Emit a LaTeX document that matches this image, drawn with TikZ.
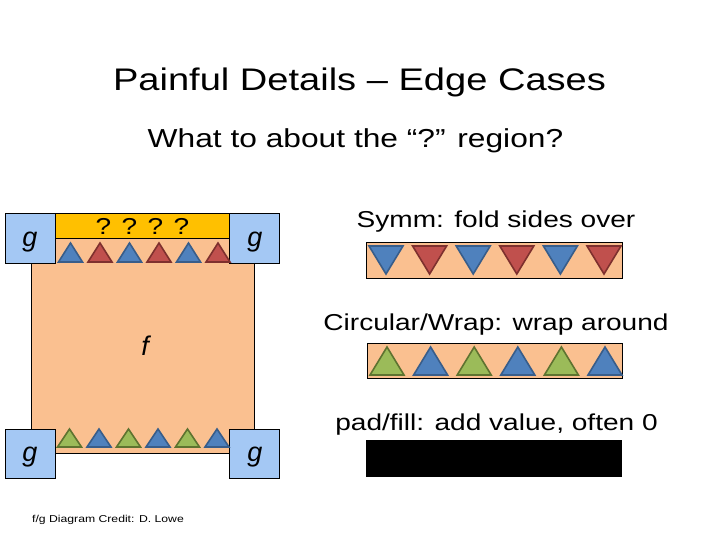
\documentclass[tikz,border=0pt]{standalone}
\usepackage{fontspec}
\setmainfont{Liberation Sans}[FakeStretch=1.22]
\newfontfamily\plainsans{Liberation Sans}
\definecolor{peach}{HTML}{FAC090}
\definecolor{lblue}{HTML}{A4C8F4}
\definecolor{barY}{HTML}{FFC000}
\definecolor{tblue}{HTML}{4F81BD}
\definecolor{tblueB}{HTML}{385D8A}
\definecolor{tred}{HTML}{C0504D}
\definecolor{tredB}{HTML}{7E302E}
\definecolor{tgreen}{HTML}{9BBB59}
\definecolor{tgreenB}{HTML}{5E7330}
\tikzset{
  gbox/.style={draw=black, line width=0.8pt, fill=lblue},
  lab/.style={inner sep=0pt, anchor=base},
  gtxt/.style={inner sep=0pt, anchor=base, font=\plainsans\itshape\fontsize{27}{30}\selectfont},
  btri/.style={fill=tblue, draw=tblueB, line width=1.6pt, line join=miter},
  rtri/.style={fill=tred, draw=tredB, line width=1.6pt, line join=miter},
  gtri/.style={fill=tgreen, draw=tgreenB, line width=1.6pt, line join=miter},
}
\begin{document}
\begin{tikzpicture}[x=1pt,y=-1pt]
\useasboundingbox (0,0) rectangle (720,540);
% titles
\node[lab, font=\fontsize{31.2}{36}\selectfont] (title) at (359.5,91) {Painful Details -- Edge Cases};
\node[lab, font=\fontsize{26}{30}\selectfont] (sub) at (355.5,148) {What to about the “?” region?};
% f region
\draw[fill=peach, draw=black, line width=0.8pt] (31,213) rectangle (254,453);
\node[gtxt] (f) at (145,355) {f};
% bar
\draw[fill=barY, draw=black, line width=0.8pt] (55,213) rectangle (229,238);
\node[lab, font=\fontsize{23}{26}\selectfont] (q) at (142.5,235) {? ? ? ?};
% g boxes
\draw[gbox] (5,213) rectangle (55,263);
\draw[gbox] (229,213) rectangle (279,263);
\draw[gbox] (5,429) rectangle (55,478);
\draw[gbox] (229,429) rectangle (279,478);
\node[gtxt] (g1) at (30,246) {g};
\node[gtxt] (g2) at (255,246) {g};
\node[gtxt] (g3) at (30,461) {g};
\node[gtxt] (g4) at (255,461) {g};
% top triangles
\foreach \i/\s in {0/btri,1/rtri,2/btri,3/rtri,4/btri,5/rtri}{
  \draw[\s] ({58.5+29.5*\i},262) -- ({70.5+29.5*\i},243) -- ({82.5+29.5*\i},262) -- cycle;
}
% bottom triangles
\foreach \i/\s in {0/gtri,1/btri,2/gtri,3/btri,4/gtri,5/btri}{
  \draw[\s] ({57.5+29.5*\i},447) -- ({69.5+29.5*\i},429) -- ({81.5+29.5*\i},447) -- cycle;
}
% right side
\node[lab, font=\fontsize{23}{26}\selectfont] (symm) at (496,228) {Symm: fold sides over};
\draw[fill=peach, draw=black, line width=0.8pt] (366,242) rectangle (622,278);
\foreach \i/\s in {0/btri,1/rtri,2/btri,3/rtri,4/btri,5/rtri}{
  \draw[\s] ({369+43.6*\i},246) -- ({386+43.6*\i},274) -- ({403+43.6*\i},246) -- cycle;
}
\node[lab, font=\fontsize{23}{26}\selectfont] (circ) at (496,330) {Circular/Wrap: wrap around};
\draw[fill=peach, draw=black, line width=0.8pt] (367,343) rectangle (622,378);
\foreach \i/\s in {0/gtri,1/btri,2/gtri,3/btri,4/gtri,5/btri}{
  \draw[\s] ({370+43.6*\i},375) -- ({387+43.6*\i},347) -- ({404+43.6*\i},375) -- cycle;
}
\node[lab, font=\fontsize{23}{26}\selectfont] (pad) at (496.5,430) {pad/fill: add value, often 0};
\fill[black] (366,440) rectangle (622,477);
% credit
\node[lab, font=\fontsize{10}{12}\selectfont] (credit) at (108,522) {f/g Diagram Credit: D. Lowe};
\end{tikzpicture}
\end{document}
